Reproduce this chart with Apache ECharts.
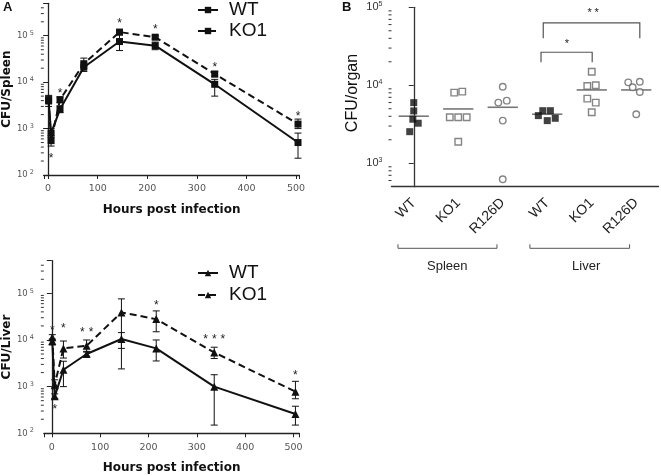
<!DOCTYPE html>
<html><head><meta charset="utf-8">
<script src="https://cdn.jsdelivr.net/npm/echarts@6/dist/echarts.min.js"></script>
<style>html,body{margin:0;padding:0;background:#fff}#c{width:661px;height:476px}</style>
</head><body><div id="c"></div>
<script>
// ---------- Panel A data ----------
const hours = [1, 6, 24, 72, 144, 216, 336, 504];
const xTickStep = 100;

const spleenWT = [4000, 800, 2600, 21000, 75000, 61000, 9000, 500];
const spleenWTLow = [3000, 650, 2200, 17000, 48000, 50000, 5000, 230];
const spleenWTHigh = [5000, 1000, 3100, 26000, 105000, 73000, 11500, 800];
const spleenKO1 = [4200, 550, 4200, 25000, 120000, 93000, 15000, 1250];
const spleenKO1Low = [3400, 420, 3600, 20000, 105000, 85000, 13000, 1000];
const spleenKO1High = [5200, 700, 4800, 33000, 135000, 100000, 17000, 1600];
const spleenStars = ['', '*', '*', '', '*', '*', '*', '*'];
const spleenStarY = [null, 250, 6300, null, 210000, 155000, 23000, 2100];

const liverWT = [9500, 620, 2300, 5000, 10500, 6600, 1000, 260];
const liverWTLow = [7800, 560, 1000, 4500, 2400, 3550, 150, 150];
const liverWTHigh = [10500, 700, 3500, 5700, 14400, 10000, 1800, 380];
const liverKO1 = [11500, 1100, 6600, 7500, 39000, 28000, 5400, 780];
const liverKO1Low = [10000, 900, 4100, 5500, 6600, 15000, 4000, 550];
const liverKO1High = [13000, 1400, 9500, 10000, 76000, 42000, 7000, 1300];
const liverStars = ['*', '*', '*', '**', '', '*', '***', '*'];
const liverStarY = [18000, 370, 20000, 16000, null, 63000, 11800, 2000];

// ---------- Panel B data ----------
const bGroups = ['WT', 'KO1', 'R126D', 'WT', 'KO1', 'R126D'];
const bOrgans = ['Spleen', 'Liver'];
const bSpleenWT = [5990, 4690, 3670, 3260, 2540];
const bSpleenWTJit = [0, 0, -0.02, 0.1, -0.09];
const bSpleenKO1 = [8040, 8280, 3890, 3890, 3890, 1890];
const bSpleenKO1Jit = [-0.09, 0.09, -0.19, 0, 0.19, 0];
const bSpleenR126D = [9590, 5990, 6350, 3520, 624];
const bSpleenR126DJit = [0, -0.1, 0.09, 0, 0];
const bLiverWT = [4720, 4720, 4080, 3770, 3520];
const bLiverWTJit = [-0.1, 0.07, -0.2, 0.18, 0];
const bLiverKO1 = [14900, 9790, 10000, 6730, 5990, 4510];
const bLiverKO1Jit = [0, -0.1, 0.09, -0.1, 0.09, 0];
const bLiverR126D = [10900, 11100, 9420, 8200, 4250];
const bLiverR126DJit = [-0.18, 0.08, -0.08, 0.08, 0];
const bMedians = [4010, 4970, 5220, 4250, 8710, 8710];
const sigX1 = [2.86, 2.91];
const sigX2 = [4.01, 5.08];
const sigYTop = [26500, 63000];
const sigYEnd = [19700, 40000];
const sigLabels = ['*', '**'];
const sigLabelX = [3.44, 4.03];
const sigLabelY = [36000, 90000];
const organX1 = [-0.354, 2.61];
const organX2 = [1.87, 4.85];
const organLabelX = [0.754, 3.875];

// ---------- helpers ----------
const ARIAL = '"Liberation Sans", Arial, sans-serif';
const DJ = '"DejaVu Sans", sans-serif';
const isPow10 = v => { const l = Math.log10(v); return Math.abs(l - Math.round(l)) < 1e-6; };
const powLabel = v => isPow10(v) ? '{b|10}{e|' + Math.round(Math.log10(v)) + '}' : '';

function minorValues(lo, hi) {
  const out = [];
  for (let p = Math.floor(Math.log10(lo)); p <= Math.ceil(Math.log10(hi)); p++) {
    for (let m = 2; m <= 9; m++) { const v = m * Math.pow(10, p); if (v > lo && v < hi) out.push(v); }
  }
  return out;
}
function minorTicks(xi, yi, xAt, vals, len) {
  return { type: 'custom', xAxisIndex: xi, yAxisIndex: yi, silent: true, clip: false, z: 5,
    data: vals.map(v => [xAt, v]),
    renderItem: (p, api) => { const c = api.coord([api.value(0), api.value(1)]);
      return { type: 'line', shape: { x1: c[0] - len, y1: c[1], x2: c[0], y2: c[1] }, style: { stroke: '#333', lineWidth: 1 } }; } };
}
function errBars(xi, yi, xs, lo, hi) {
  return { type: 'custom', xAxisIndex: xi, yAxisIndex: yi, silent: true, z: 4,
    data: xs.map((x, i) => [x, lo[i], hi[i]]),
    renderItem: (p, api) => {
      const a = api.coord([api.value(0), api.value(2)]), b = api.coord([api.value(0), api.value(1)]), w = 3.5;
      const st = { stroke: '#111', lineWidth: 1 };
      return { type: 'group', children: [
        { type: 'line', shape: { x1: a[0], y1: a[1], x2: b[0], y2: b[1] }, style: st },
        { type: 'line', shape: { x1: a[0] - w, y1: a[1], x2: a[0] + w, y2: a[1] }, style: st },
        { type: 'line', shape: { x1: b[0] - w, y1: b[1], x2: b[0] + w, y2: b[1] }, style: st }] };
    } };
}
function starText(x, y, label, spacing, size) {
  const chars = label.split('');
  const start = x - (chars.length - 1) * spacing / 2;
  return chars.map((ch, k) => ({ type: 'text', x: start + k * spacing, y: y + size * 0.22,
    style: { text: ch, fill: '#222', font: size + 'px ' + ARIAL, align: 'center', verticalAlign: 'middle' } }));
}
function stars(xi, yi, xs, ys, labels) {
  const d = [], t = [];
  xs.forEach((x, i) => { if (labels[i]) { d.push([x, ys[i]]); t.push(labels[i]); } });
  return { type: 'custom', xAxisIndex: xi, yAxisIndex: yi, silent: true, clip: false, z: 6, data: d,
    renderItem: (p, api) => { const c = api.coord([api.value(0), api.value(1)]);
      return { type: 'group', children: starText(c[0], c[1], t[p.dataIndex], 8.7, 12) }; } };
}
function lineSeries(name, xi, yi, vals, symbol, dashed) {
  return { name, type: 'line', xAxisIndex: xi, yAxisIndex: yi, data: hours.map((h, i) => [h, vals[i]]),
    symbol, symbolSize: symbol === 'triangle' ? 8 : 7, z: 3,
    itemStyle: { color: '#111' },
    lineStyle: { color: '#111', width: 2, type: dashed ? [7, 4] : 'solid' },
    emphasis: { disabled: true }, animation: false };
}
function axisA(name, min, max) {
  return {
    x: { type: 'value', min, max, splitLine: { show: false },
      axisLine: { lineStyle: { color: '#222', width: 1.3 } }, axisTick: { length: 4, lineStyle: { color: '#222' } },
      axisLabel: { color: '#555', fontFamily: DJ, fontSize: 9.5, margin: 9,
        formatter: v => (Math.abs(v % xTickStep) < 1e-6 ? String(v) : '') },
      name: 'Hours post infection', nameLocation: 'middle', nameGap: 29,
      nameTextStyle: { fontFamily: DJ, fontWeight: 'bold', fontSize: 12, color: '#111' } },
    y: { type: 'log', logBase: 10, min: 100, max: 500000, splitLine: { show: false },
      axisLine: { show: true, lineStyle: { color: '#222', width: 1.3 } }, axisTick: { show: true, length: 5, lineStyle: { color: '#222' } },
      axisLabel: { formatter: powLabel, margin: 10, rich: {
        b: { color: '#555', fontFamily: DJ, fontSize: 8.5 },
        e: { color: '#555', fontFamily: DJ, fontSize: 6.5, padding: [0, 0, 5, 2] } } },
      name, nameLocation: 'middle', nameGap: 25,
      nameTextStyle: { fontFamily: DJ, fontWeight: 'bold', fontSize: 12, color: '#111' } }
  };
}

const aTop = axisA('CFU/Spleen', -8.6, 506.6);
const aBot = axisA('CFU/Liver', -16.5, 512);

const bScatterDefs = [
  [bSpleenWT, bSpleenWTJit, 'rect', true], [bSpleenKO1, bSpleenKO1Jit, 'rect', false],
  [bSpleenR126D, bSpleenR126DJit, 'circle', false], [bLiverWT, bLiverWTJit, 'rect', true],
  [bLiverKO1, bLiverKO1Jit, 'rect', false], [bLiverR126D, bLiverR126DJit, 'circle', false]];
const bScatter = bScatterDefs.map((d, gi) => ({
  type: 'scatter', xAxisIndex: 3, yAxisIndex: 2, symbol: d[2], symbolSize: d[3] ? 7 : 6.5, z: 4,
  data: d[0].map((v, i) => [gi + d[1][i], v]),
  itemStyle: d[3] ? { color: '#111' } : { color: '#fff', borderColor: '#666', borderWidth: 1.4 },
  emphasis: { disabled: true }, animation: false }));

const option = {
  animation: false,
  backgroundColor: '#fff',
  title: [
    { text: 'A', left: 3, top: 1, padding: 0, textStyle: { fontFamily: ARIAL, fontWeight: 'bold', fontSize: 13, color: '#111' } },
    { text: 'B', left: 342, top: 1, padding: 0, textStyle: { fontFamily: ARIAL, fontWeight: 'bold', fontSize: 13, color: '#111' } }],
  legend: [
    { data: ['WT (spleen)', 'KO1 (spleen)'], left: 197, top: 0.5, orient: 'vertical', itemWidth: 20, itemHeight: 8, itemGap: 2,
      selectedMode: false, padding: 0, formatter: n => n.split(' ')[0],
      textStyle: { fontFamily: ARIAL, fontSize: 19, color: '#111', padding: [0, 0, 0, 6] } },
    { data: ['WT (liver)', 'KO1 (liver)'], left: 197, top: 263.5, orient: 'vertical', itemWidth: 20, itemHeight: 8, itemGap: 3,
      selectedMode: false, padding: 0, formatter: n => n.split(' ')[0],
      textStyle: { fontFamily: ARIAL, fontSize: 19, color: '#111', padding: [0, 0, 0, 6] } }],
  grid: [
    { left: 41.7, top: 3.3, width: 257.6, height: 171.7 },
    { left: 34, top: 260.7, width: 265.3, height: 172.6 },
    { left: 391.5, top: 7.3, width: 267, height: 179.4 }],
  xAxis: [
    Object.assign({ gridIndex: 0 }, aTop.x),
    Object.assign({ gridIndex: 1 }, aBot.x),
    { type: 'category', gridIndex: 2, data: bGroups, boundaryGap: true,
      axisLine: { lineStyle: { color: '#333', width: 1.3 } }, axisTick: { show: false },
      axisLabel: { rotate: 45, margin: 14, fontFamily: ARIAL, fontSize: 14, color: '#222', interval: 0 } },
    { type: 'value', gridIndex: 2, min: -0.5, max: 5.5, show: false }],
  yAxis: [
    Object.assign({ gridIndex: 0 }, aTop.y),
    Object.assign({ gridIndex: 1 }, aBot.y),
    { type: 'log', gridIndex: 2, logBase: 10, min: 500, max: 100000, splitLine: { show: false },
      axisLine: { show: true, lineStyle: { color: '#333', width: 1.3 } }, axisTick: { show: true, length: 5, lineStyle: { color: '#333' } },
      axisLabel: { formatter: powLabel, margin: 9, rich: {
        b: { color: '#333', fontFamily: ARIAL, fontSize: 11 },
        e: { color: '#333', fontFamily: ARIAL, fontSize: 7, padding: [0, 0, 6, 0] } } },
      name: 'CFU/organ', nameLocation: 'middle', nameGap: 31,
      nameTextStyle: { fontFamily: ARIAL, fontSize: 16, color: '#111', padding: [0, 0, 0, 8] } }],
  series: [
    lineSeries('WT (spleen)', 0, 0, spleenWT, 'rect', false),
    lineSeries('KO1 (spleen)', 0, 0, spleenKO1, 'rect', true),
    errBars(0, 0, hours, spleenWTLow, spleenWTHigh),
    errBars(0, 0, hours, spleenKO1Low, spleenKO1High),
    stars(0, 0, hours, spleenStarY, spleenStars),
    minorTicks(0, 0, -8.6, minorValues(100, 500000), 3),
    lineSeries('WT (liver)', 1, 1, liverWT, 'triangle', false),
    lineSeries('KO1 (liver)', 1, 1, liverKO1, 'triangle', true),
    errBars(1, 1, hours, liverWTLow, liverWTHigh),
    errBars(1, 1, hours, liverKO1Low, liverKO1High),
    stars(1, 1, hours, liverStarY, liverStars),
    minorTicks(1, 1, -16.5, minorValues(100, 500000), 3),
    ...bScatter,
    { type: 'custom', xAxisIndex: 3, yAxisIndex: 2, silent: true, z: 3,
      data: bMedians.map((m, i) => [i, m]),
      renderItem: (p, api) => { const a = api.coord([api.value(0) - 0.34, api.value(1)]), b = api.coord([api.value(0) + 0.34, api.value(1)]);
        return { type: 'line', shape: { x1: a[0], y1: a[1], x2: b[0], y2: b[1] }, style: { stroke: '#777', lineWidth: 1.6 } }; } },
    { type: 'custom', xAxisIndex: 3, yAxisIndex: 2, silent: true, clip: false, z: 3,
      data: sigLabels.map((s, i) => [sigX1[i], sigX2[i], sigYTop[i], sigYEnd[i], sigLabelX[i], sigLabelY[i]]),
      renderItem: (p, api) => {
        const tl = api.coord([api.value(0), api.value(2)]), tr = api.coord([api.value(1), api.value(2)]);
        const bl = api.coord([api.value(0), api.value(3)]), br = api.coord([api.value(1), api.value(3)]);
        const lp = api.coord([api.value(4), api.value(5)]);
        return { type: 'group', children: [
          { type: 'polyline', shape: { points: [[bl[0], bl[1]], [tl[0], tl[1]], [tr[0], tr[1]], [br[0], br[1]]] }, style: { stroke: '#555', lineWidth: 1.2, fill: null } },
          ...starText(lp[0], lp[1], sigLabels[p.dataIndex], 7, 11)] };
      } },
    { type: 'custom', xAxisIndex: 3, yAxisIndex: 2, silent: true, clip: false, z: 3,
      data: bOrgans.map((o, i) => [organX1[i], organX2[i], organLabelX[i]]),
      renderItem: (p, api) => {
        const base = api.coord([0, 500])[1];
        const y = base + 61.6;
        const a = api.coord([api.value(0), 500])[0], b = api.coord([api.value(1), 500])[0], c = api.coord([api.value(2), 500])[0];
        return { type: 'group', children: [
          { type: 'polyline', shape: { points: [[a, y - 4], [a, y], [b, y], [b, y - 4]] }, style: { stroke: '#555', lineWidth: 1, fill: null } },
          { type: 'text', x: c, y: base + 80, style: { text: bOrgans[p.dataIndex], fill: '#222', font: '13px ' + ARIAL, align: 'center', verticalAlign: 'middle' } }] };
      } },
    minorTicks(3, 2, -0.5, minorValues(500, 100000), 3)
  ]
};
const chart = echarts.init(document.getElementById('c'));
chart.setOption(option);
</script></body></html>
